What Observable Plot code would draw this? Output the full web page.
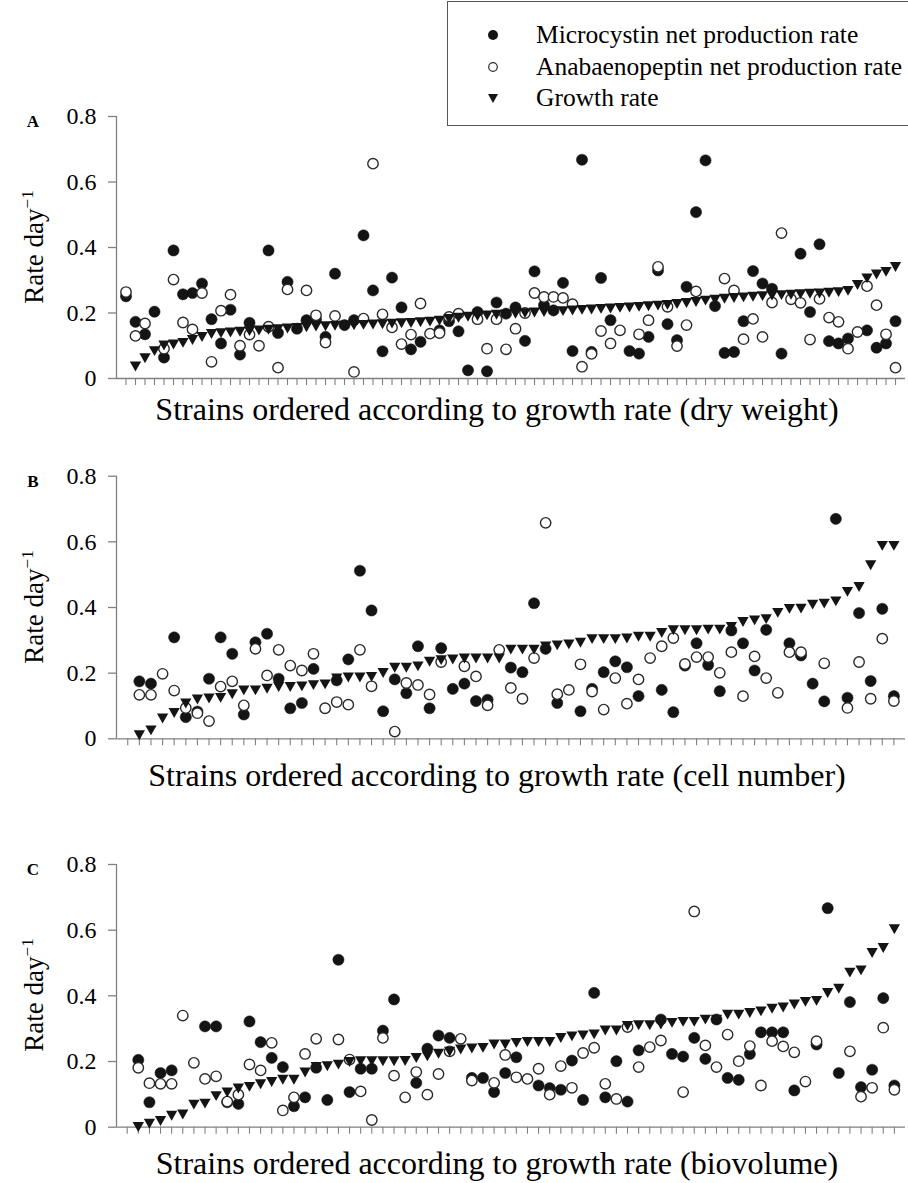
<!DOCTYPE html>
<html>
<head>
<meta charset="utf-8">
<script src="https://cdn.jsdelivr.net/npm/d3@7"></script>
<script src="https://cdn.jsdelivr.net/npm/@observablehq/plot@0.6"></script>
<style>
  body { margin: 0; background: #fff; }
  #wrap { position: relative; width: 908px; height: 1183px; overflow: hidden; background: #fff;
          font-family: "Liberation Serif", "Times New Roman", serif; color: #000; }
  .panel { position: absolute; left: 0; }
  .panel svg { display: block; overflow: visible; }
  .ylab { position: absolute; font-size: 27px; white-space: nowrap; transform: translate(-50%, -50%) rotate(-90deg); }
  .ylab sup { font-size: 17px; }
  .xlab { position: absolute; font-size: 32px; white-space: nowrap; transform: translate(-50%, -50%); }
  .letter { position: absolute; font-size: 17px; font-weight: bold; transform: translate(-50%, -50%); }
  #legend { position: absolute; left: 447px; top: 1px; width: 480px; height: 125px; box-sizing: border-box;
            border: 1.5px solid #555; background: #fff; }
  .lrow { position: absolute; left: 0; font-size: 25.5px; white-space: nowrap; transform: translateY(-50%); }
  .lrow svg { position: absolute; left: 38px; top: 50%; transform: translateY(-50%); }
  .lrow span { position: absolute; left: 88px; top: 50%; transform: translateY(-50%); }
</style>
</head>
<body>
<div id="wrap"></div>
<script>
// ---------------- data ----------------
const seriesNames = ["Microcystin net production rate", "Anabaenopeptin net production rate", "Growth rate"];
const xLabels = [
  "Strains ordered according to growth rate (dry weight)",
  "Strains ordered according to growth rate (cell number)",
  "Strains ordered according to growth rate (biovolume)"
];
const panelLetters = ["A", "B", "C"];
const yTicks = [0, 0.2, 0.4, 0.6, 0.8];
const yTickLabels = ["0", "0.2", "0.4", "0.6", "0.8"];

// Panel A (dry weight), 82 strains
const mcA = [0.251,0.173,0.135,0.204,0.064,0.391,0.257,0.261,0.29,0.181,
  0.107,0.21,0.073,0.17,null,0.391,0.139,0.295,0.152,0.178,
  0.18,0.127,0.32,0.163,0.178,0.437,0.269,0.083,0.308,0.217,
  0.089,0.112,null,0.147,0.175,0.144,0.025,0.203,0.022,0.232,
  0.198,0.217,0.115,0.327,0.224,0.208,0.292,0.084,0.668,0.081,
  0.307,0.178,null,0.084,0.076,0.127,0.33,0.166,0.117,0.28,
  0.508,0.666,0.221,0.078,0.081,0.175,0.328,0.29,0.274,0.076,
  null,0.381,0.203,0.41,0.114,0.107,0.122,null,0.147,0.094,
  0.107,0.175];
const anA = [0.264,0.13,0.168,null,0.091,0.302,0.171,0.15,0.261,0.051,
  0.207,0.256,0.1,0.134,0.1,0.158,0.033,0.272,null,0.269,
  0.193,0.11,0.191,null,0.02,0.183,0.656,0.196,0.156,0.105,
  0.134,0.229,0.137,0.139,0.188,0.198,null,0.181,0.091,0.181,
  0.089,0.152,0.2,0.261,0.249,0.249,0.246,0.227,0.036,0.075,
  0.145,0.107,0.147,null,0.135,0.178,0.341,0.219,0.099,0.163,
  0.266,null,null,0.305,0.269,0.12,0.182,0.127,0.232,0.444,
  0.242,0.231,0.119,0.243,0.186,0.173,0.091,0.142,0.282,0.224,
  0.135,0.033];
const gA = [null,0.041,0.066,0.088,0.105,0.108,0.113,0.122,0.131,0.14,
  0.143,0.145,0.147,0.149,0.151,0.153,0.155,0.157,0.159,0.161,
  0.163,0.164,0.165,0.166,0.167,0.168,0.169,0.17,0.172,0.173,
  0.174,0.176,0.178,0.181,0.186,0.19,0.193,0.195,0.197,0.199,
  0.2,0.202,0.204,0.206,0.207,0.208,0.21,0.212,0.214,0.215,
  0.217,0.218,0.22,0.221,0.223,0.225,0.227,0.229,0.232,0.235,
  0.238,0.242,0.245,0.248,0.25,0.252,0.254,0.256,0.258,0.259,
  0.26,0.262,0.263,0.264,0.266,0.268,0.272,0.29,0.31,0.322,
  0.33,0.345];

// Panel B (cell number), 67 positions
const mcB = [null,0.175,0.168,null,0.309,0.066,0.083,0.183,0.309,0.259,
  0.074,0.294,0.32,0.183,0.093,0.109,0.213,null,0.178,0.242,
  0.512,0.391,0.084,0.181,0.139,0.282,0.093,0.276,0.152,0.168,
  0.115,0.119,null,0.217,0.203,0.413,0.274,0.109,null,0.084,
  0.152,0.203,0.236,0.218,0.13,null,0.149,0.081,0.223,0.291,
  0.225,0.145,0.33,0.291,0.208,0.332,null,0.291,0.254,0.168,
  0.114,0.67,0.125,0.383,0.176,0.396,0.13];
const anB = [null,0.134,0.134,0.198,0.147,0.094,0.078,0.054,0.159,0.175,
  0.102,0.274,0.193,0.271,0.223,0.208,0.259,0.093,0.112,0.104,
  0.271,0.16,null,0.022,0.17,0.164,0.135,0.234,null,0.221,
  0.19,0.102,0.271,0.155,0.122,0.246,0.658,0.136,0.149,0.227,
  0.144,0.089,0.185,0.107,0.181,0.246,0.282,0.307,0.228,0.249,
  0.249,0.201,0.264,0.13,0.251,0.185,0.14,0.264,0.264,null,
  0.23,null,0.094,0.234,0.122,0.305,0.115];
const gB = [null,0.015,0.03,0.066,0.083,0.112,0.124,0.127,0.129,0.14,
  0.152,0.152,0.157,0.162,0.162,0.164,0.168,0.17,0.188,0.191,
  0.191,0.193,0.205,0.221,0.221,0.225,0.239,0.244,0.246,0.249,
  0.249,0.249,0.249,0.276,0.276,0.276,0.286,0.289,0.292,0.297,
  0.308,0.308,0.308,0.31,0.315,0.315,0.327,0.335,0.335,0.335,
  0.337,0.337,0.345,0.36,0.365,0.369,0.388,0.4,0.401,0.413,
  0.416,0.423,0.452,0.467,0.533,0.592,0.592];

// Panel C (biovolume), 70 positions
const mcC = [null,0.205,0.076,0.165,0.173,null,null,0.307,0.307,0.076,
  0.071,0.322,0.259,0.211,0.183,0.064,0.091,0.181,0.083,0.51,
  0.107,0.178,0.178,0.294,0.389,null,0.135,0.239,0.279,0.272,
  null,0.15,0.15,0.107,0.165,0.213,null,0.127,0.119,0.114,
  0.203,0.083,0.409,0.091,0.201,0.078,0.234,null,0.328,0.223,
  0.215,0.272,0.208,0.328,0.15,0.144,0.223,0.289,0.289,0.289,
  0.112,null,0.252,0.667,0.165,0.381,0.122,0.175,0.393,0.127];
const anC = [null,0.181,0.134,0.132,0.132,0.34,0.196,0.147,0.155,0.078,
  0.099,0.191,0.173,0.257,0.051,0.091,0.223,0.269,null,0.267,
  0.206,0.109,0.022,0.272,0.157,0.091,0.168,0.099,0.162,0.231,
  0.269,0.142,null,0.135,0.22,0.152,0.147,0.178,0.099,0.186,
  0.12,0.226,0.242,0.132,0.086,0.305,0.183,0.244,0.264,null,
  0.107,0.657,0.249,0.183,0.282,0.201,0.247,0.127,0.262,0.246,
  0.228,0.139,0.262,null,null,0.231,0.093,0.12,0.303,0.114];
const gC = [null,0.005,0.015,0.023,0.039,0.043,0.073,0.076,0.099,0.11,
  0.122,0.127,0.135,0.142,0.149,0.149,0.171,0.188,0.19,0.195,
  0.203,0.205,0.205,0.205,0.205,0.206,0.215,0.22,0.228,0.234,
  0.241,0.244,0.246,0.256,0.256,0.261,0.264,0.264,0.264,0.276,
  0.281,0.284,0.287,0.299,0.299,0.313,0.315,0.315,0.317,0.322,
  0.325,0.325,0.332,0.332,0.347,0.347,0.352,0.357,0.365,0.369,
  0.378,0.386,0.389,0.413,0.426,0.475,0.482,0.535,0.55,0.607];

// ---------------- layout (page pixels) ----------------
const layout = [
  { mc: mcA, an: anA, g: gA, top: 100, height: 320, yZero: 378,   yTop: 116, xDomain: [-1, 82.05],   xLabelY: 409 },
  { mc: mcB, an: anB, g: gB, top: 455, height: 320, yZero: 738.3, yTop: 475.7, xDomain: [-0.97, 67.0], xLabelY: 775 },
  { mc: mcC, an: anC, g: gC, top: 840, height: 320, yZero: 1126.7, yTop: 864, xDomain: [-0.96, 70.0], xLabelY: 1163 }
];

const triDown = {
  draw(context, size) {
    const r = Math.sqrt(size / Math.PI);
    const a = r * 1.15, b = r * 0.72, c = r * 1.3;
    context.moveTo(-a, -b);
    context.lineTo(a, -b);
    context.lineTo(0, c);
    context.closePath();
  }
};

const wrap = document.getElementById("wrap");
const axisGray = "#808080";

layout.forEach((p, k) => {
  const n = p.g.length;
  const idx = d3.range(n);
  const chart = Plot.plot({
    width: 908,
    height: p.height,
    marginLeft: 116,
    marginRight: 3,
    marginTop: p.yTop - p.top,
    marginBottom: p.top + p.height - p.yZero,
    style: { fontFamily: '"Liberation Serif", "Times New Roman", serif', fontSize: "24px", color: "#000", background: "transparent" },
    x: { domain: p.xDomain },
    y: { domain: [0, 0.8] },
    marks: [
      Plot.ruleX([p.xDomain[0]], { y1: 0, y2: 0.8, stroke: axisGray, strokeWidth: 1.3 }),
      Plot.ruleY([0], { x1: p.xDomain[0], x2: p.xDomain[1], stroke: axisGray, strokeWidth: 1.3 }),
      Plot.axisY({ ticks: yTicks, tickFormat: d => yTickLabels[yTicks.indexOf(d)], tickSize: 8, tickPadding: 12,
                   stroke: axisGray, fill: "#000", strokeWidth: 1.3 }),
      Plot.axisX({ ticks: idx, tickSize: 7, tickFormat: () => "", stroke: axisGray, strokeWidth: 1.1 }),
      Plot.dot(idx, { filter: i => p.mc[i] != null, x: i => i, y: i => p.mc[i], r: 5.6, fill: "#141414", stroke: "#141414", strokeWidth: 0.5 }),
      Plot.dot(idx, { filter: i => p.an[i] != null, x: i => i, y: i => p.an[i], r: 5.2, fill: "#fff", stroke: "#2a2a2a", strokeWidth: 1.4 }),
      Plot.dot(idx, { filter: i => p.g[i] != null, x: i => i, y: i => p.g[i], r: 4.9, symbol: triDown, fill: "#141414", stroke: "none" })
    ]
  });
  const holder = document.createElement("div");
  holder.className = "panel";
  holder.style.top = p.top + "px";
  holder.appendChild(chart);
  wrap.appendChild(holder);

  const letter = document.createElement("div");
  letter.className = "letter";
  letter.textContent = panelLetters[k];
  letter.style.left = "33px";
  letter.style.top = (p.yTop + 6) + "px";
  wrap.appendChild(letter);

  const yl = document.createElement("div");
  yl.className = "ylab";
  yl.innerHTML = "Rate day<sup>\u22121</sup>";
  yl.style.left = "34px";
  yl.style.top = ((p.yTop + p.yZero) / 2) + "px";
  wrap.appendChild(yl);

  const xl = document.createElement("div");
  xl.className = "xlab";
  xl.textContent = xLabels[k];
  xl.style.left = "497px";
  xl.style.top = p.xLabelY + "px";
  wrap.appendChild(xl);
});

// legend
const legend = document.createElement("div");
legend.id = "legend";
const rowsY = [34, 66, 97];
const markers = [
  '<svg width="14" height="14"><circle cx="7" cy="7" r="5" fill="#141414"/></svg>',
  '<svg width="14" height="14"><circle cx="7" cy="7" r="4.3" fill="#fff" stroke="#2a2a2a" stroke-width="1.2"/></svg>',
  '<svg width="14" height="14"><path d="M2,3 L12,3 L7,12 Z" fill="#141414"/></svg>'
];
seriesNames.forEach((name, i) => {
  const row = document.createElement("div");
  row.className = "lrow";
  row.style.top = (rowsY[i] - 1) + "px";
  row.innerHTML = markers[i] + "<span></span>";
  row.querySelector("span").textContent = name;
  legend.appendChild(row);
});
wrap.appendChild(legend);
</script>
</body>
</html>
